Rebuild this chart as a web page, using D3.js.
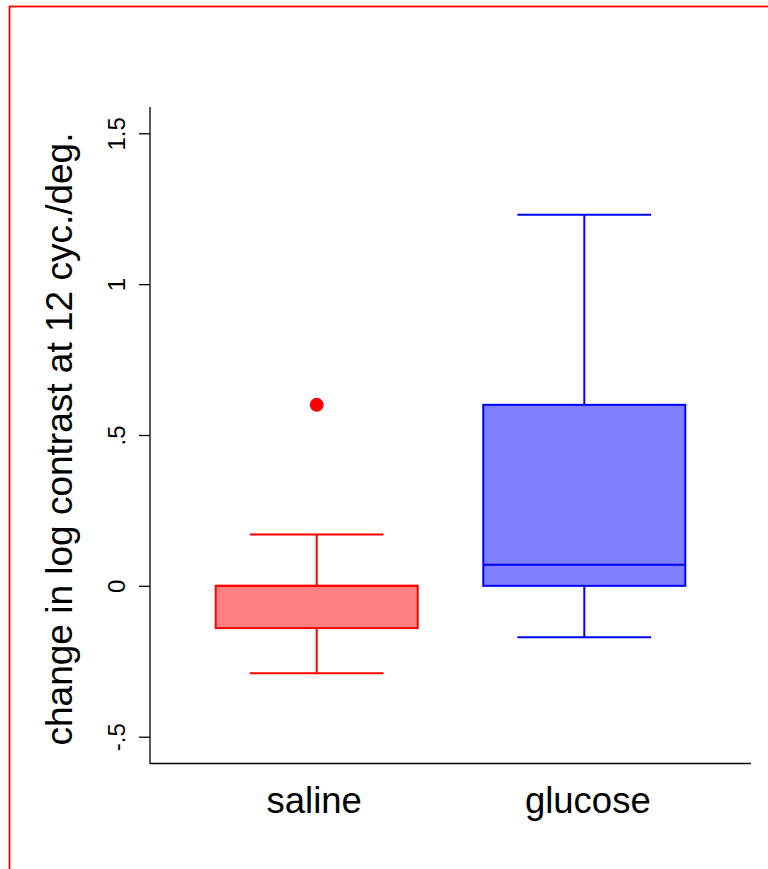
<!DOCTYPE html>
<html>
<head>
<meta charset="utf-8">
<script src="https://cdn.jsdelivr.net/npm/d3@7"></script>
<style>
  body { margin: 0; background: #fff; }
  svg { display: block; font-family: "Liberation Sans", Arial, Helvetica, sans-serif; }
</style>
</head>
<body>
<script>
// data
var groups = ["saline", "glucose"];
var lowWhisker = [-0.29, -0.17];
var q1 = [-0.14, 0];
var median = [0, 0.07];
var q3 = [0, 0.6];
var highWhisker = [0.17, 1.23];
var outliers = [{group: "saline", value: 0.6}];
var yTicks = [-0.5, 0, 0.5, 1, 1.5];
var yTickLabels = ["-.5", "0", ".5", "1", "1.5"];
var strokeCols = ["#ff0000", "#0000ff"];
var fillCols = ["#ff8080", "#8080ff"];

var W = 768, H = 869;
var svg = d3.select("body").append("svg")
  .attr("width", W)
  .attr("height", H);

// frame
svg.append("rect")
  .attr("x", 9.5)
  .attr("y", 6.5)
  .attr("width", 900)
  .attr("height", 900)
  .attr("fill", "none")
  .attr("stroke", "#ff0000")
  .attr("stroke-width", 1.8);

var y = d3.scaleLinear()
  .domain([-0.5, 1.5])
  .range([736.7, 133.3]);

var x = d3.scalePoint()
  .domain(groups)
  .range([150, 751])
  .padding(0.623);

var step = x.step();
var boxW = step * 0.755, capW = step * 0.5;

// y axis
var yAxis = d3.axisLeft(y)
  .tickValues(yTicks)
  .tickSize(11)
  .tickFormat(function(d, i){ return yTickLabels[i]; });

var gy = svg.append("g")
  .attr("transform", "translate(150,0)")
  .call(yAxis);
gy.select(".domain").remove();
gy.append("line")
  .attr("y1", 107)
  .attr("y2", 764)
  .attr("stroke", "#000")
  .attr("stroke-width", 1.3);
gy.selectAll(".tick line")
  .attr("stroke", "#000")
  .attr("stroke-width", 1.3);
gy.selectAll(".tick text")
  .attr("x", 0)
  .attr("y", 0)
  .attr("dy", 0)
  .attr("transform", "translate(-25,0) rotate(-90)")
  .attr("text-anchor", "middle")
  .attr("fill", "#000")
  .style("font-size", "24px");

// x axis line (no ticks)
var xAxis = d3.axisBottom(x).tickSize(0).tickPadding(24);
var gx = svg.append("g")
  .attr("transform", "translate(0,763.5)")
  .call(xAxis);
gx.select(".domain")
  .attr("d", "M150,0H751")
  .attr("stroke", "#000")
  .attr("stroke-width", 1.3);
gx.selectAll(".tick text")
  .attr("dy", "0.71em")
  .attr("dx", function(d, i){ return i === 0 ? -3 : 3; })
  .attr("fill", "#000")
  .style("font-size", "36.5px");

// y title
svg.append("text")
  .attr("transform", "translate(72,439) rotate(-90)")
  .attr("text-anchor", "middle")
  .style("font-size", "37px")
  .attr("fill", "#000")
  .text("change in log contrast at 12 cyc./deg.");

// boxes
var boxes = svg.append("g").selectAll("g")
  .data(groups)
  .join("g");

boxes.each(function(g, i){
  var sel = d3.select(this), cx = x(g);
  var col = strokeCols[i];
  // whiskers
  sel.append("line")
    .attr("x1", cx).attr("x2", cx)
    .attr("y1", y(highWhisker[i])).attr("y2", y(q3[i]))
    .attr("stroke", col).attr("stroke-width", 2);
  sel.append("line")
    .attr("x1", cx).attr("x2", cx)
    .attr("y1", y(q1[i])).attr("y2", y(lowWhisker[i]))
    .attr("stroke", col).attr("stroke-width", 2);
  // caps
  [highWhisker[i], lowWhisker[i]].forEach(function(v){
    sel.append("line")
      .attr("x1", cx - capW / 2).attr("x2", cx + capW / 2)
      .attr("y1", y(v)).attr("y2", y(v))
      .attr("stroke", col).attr("stroke-width", 2);
  });
  // box
  sel.append("rect")
    .attr("x", cx - boxW / 2)
    .attr("y", y(q3[i]))
    .attr("width", boxW)
    .attr("height", y(q1[i]) - y(q3[i]))
    .attr("fill", fillCols[i])
    .attr("stroke", col)
    .attr("stroke-width", 2);
  sel.append("line")
    .attr("x1", cx - boxW / 2).attr("x2", cx + boxW / 2)
    .attr("y1", y(median[i])).attr("y2", y(median[i]))
    .attr("stroke", col).attr("stroke-width", 2);
});

// outliers
svg.append("g").selectAll("circle")
  .data(outliers)
  .join("circle")
  .attr("cx", function(d){ return x(d.group); })
  .attr("cy", function(d){ return y(d.value); })
  .attr("r", 7)
  .attr("fill", function(d){ return strokeCols[groups.indexOf(d.group)]; });
</script>
</body>
</html>
